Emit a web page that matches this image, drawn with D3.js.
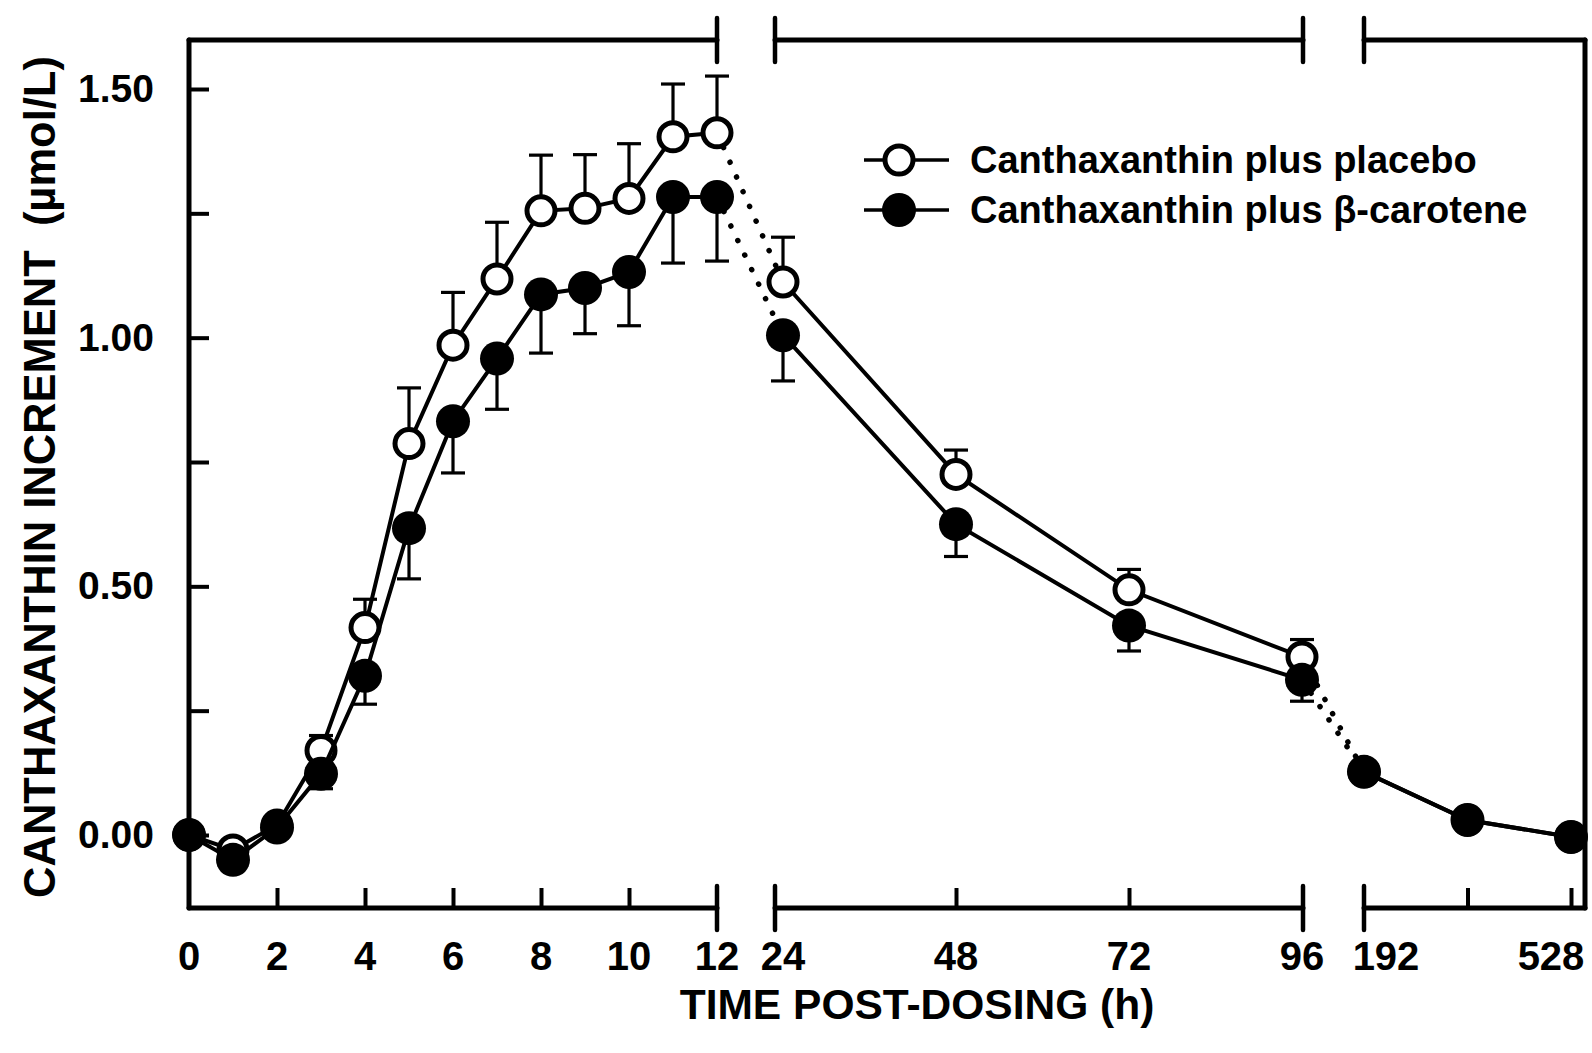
<!DOCTYPE html>
<html><head><meta charset="utf-8">
<script src="https://cdn.jsdelivr.net/npm/d3@7"></script>
<style>
body{margin:0;background:#fff}
text{font-family:"Liberation Sans",Arial,Helvetica,sans-serif;font-weight:bold;fill:#000}
</style>
</head><body>
<svg id="c" width="1592" height="1053"></svg>
<script>
// ---- data ----
const times = [0,1,2,3,4,5,6,7,8,9,10,11,12,24,48,72,96,192,360,528];
const placebo      = [0,-0.03,0.02,0.17,0.417,0.787,0.985,1.118,1.255,1.26,1.28,1.404,1.412,1.112,0.725,0.493,0.358,0.127,0.03,-0.004];
const placeboSE    = [0,0,0,0.03,0.057,0.112,0.106,0.114,0.112,0.108,0.11,0.106,0.114,0.09,0.049,0.041,0.035,0,0,0];
const betaCarotene   = [0,-0.05,0.015,0.123,0.32,0.617,0.832,0.958,1.087,1.10,1.132,1.283,1.283,1.005,0.625,0.421,0.312,0.127,0.03,-0.004];
const betaCaroteneSE = [0,0,0,0.03,0.057,0.102,0.104,0.102,0.118,0.092,0.108,0.133,0.129,0.092,0.065,0.051,0.043,0,0,0];
const segmentDomains = [[0,12],[24,96],[192,528]];
const innerTicks = [[2,4,6,8,10],[48,72],[360,528]];
const xTickLabels = [0,2,4,6,8,10,12,24,48,72,96,192,528];
const yTickValues = [0,0.25,0.5,0.75,1,1.25,1.5];
const yTickLabels = ["0.00","0.50","1.00","1.50"];
const seriesNames = ["Canthaxanthin plus placebo","Canthaxanthin plus \u03b2-carotene"];
const yTitle = "CANTHAXANTHIN INCREMENT  (\u00b5mol/L)";
const xTitle = "TIME POST-DOSING (h)";

// ---- layout ----
const svg = d3.select("#c");
const top_ = 40, bottom_ = 908, left_ = 189, right_ = 1585;
const sx = [
  d3.scaleLinear(segmentDomains[0],[189,717]),
  d3.scaleLinear(segmentDomains[1],[783,1302]),
  d3.scaleLinear(segmentDomains[2],[1364,1571])
];
const segIndex = t => t <= 12 ? 0 : (t <= 96 ? 1 : 2);
const x = t => sx[segIndex(t)](t);
const y = d3.scaleLinear([0,1.5],[835,89]);

// axis segment extents
const segExt = [[left_, 717],[775, 1303],[1364, right_]];
const frame = svg.append("g").attr("stroke","#000").attr("stroke-width",5).attr("fill","none")
  .attr("stroke-linecap","round").attr("stroke-linejoin","round");
frame.append("line").attr("x1",left_).attr("x2",left_).attr("y1",top_).attr("y2",bottom_);
frame.append("line").attr("x1",right_).attr("x2",right_).attr("y1",top_).attr("y2",bottom_);
segExt.forEach(([a,b])=>{
  [top_,bottom_].forEach(yy=>{
    frame.append("line").attr("x1",a).attr("x2",b).attr("y1",yy).attr("y2",yy);
  });
});
// break marks
[717,775,1303,1364].forEach(bx=>{
  [top_,bottom_].forEach(yy=>{
    frame.append("line").attr("x1",bx).attr("x2",bx).attr("y1",yy-22).attr("y2",yy+22).attr("stroke-width",4.5);
  });
});

// inner x ticks via d3 axes
innerTicks.forEach((tv,i)=>{
  const g = svg.append("g").attr("transform",`translate(0,${bottom_})`)
    .call(d3.axisBottom(sx[i]).tickValues(tv).tickSize(-20).tickSizeOuter(0).tickFormat(""));
  g.select(".domain").remove();
  g.selectAll(".tick line").attr("stroke","#000").attr("stroke-width",4);
});

// x tick labels
const labelShift = {192: 22, 528: -20};
svg.append("g").selectAll("text").data(xTickLabels).join("text")
  .attr("x", d => x(d) + (labelShift[d]||0))
  .attr("y", 970)
  .attr("text-anchor","middle")
  .attr("font-size",40)
  .text(d=>d);

// y axis
const ya = svg.append("g").attr("transform",`translate(${left_},0)`)
  .call(d3.axisLeft(y).tickValues(yTickValues).tickSize(-20).tickPadding(35)
     .tickFormat(d => { const s = d3.format(".2f")(d); return yTickLabels.includes(s) ? s : ""; }));
ya.select(".domain").remove();
ya.selectAll(".tick line").attr("stroke","#000").attr("stroke-width",4);
ya.selectAll(".tick text").attr("font-size",39).attr("font-family",null).attr("fill","#000")
  .style("font-family",'"Liberation Sans",Arial,sans-serif').style("font-weight","bold");

// titles
svg.append("text").attr("transform","translate(55,477) rotate(-90)")
  .attr("text-anchor","middle").attr("font-size",43.5).style("white-space","pre").text(yTitle);
svg.append("text").attr("x",917).attr("y",1019).attr("text-anchor","middle")
  .attr("font-size",42.5).text(xTitle);

// ---- series ----
function drawSeries(vals, se, dir){
  const pts = times.map((t,i)=>({t, v: vals[i], s: se[i]}));
  const g = svg.append("g");
  const line = d3.line().x(d=>x(d.t)).y(d=>y(d.v));
  // solid pieces within segments
  [0,1,2].forEach(si=>{
    const p = pts.filter(d=>segIndex(d.t)===si);
    g.append("path").attr("d",line(p)).attr("fill","none").attr("stroke","#000").attr("stroke-width",4);
  });
  // dotted connectors across breaks
  [[12,24],[96,192]].forEach(([a,b])=>{
    const p = pts.filter(d=>d.t===a||d.t===b);
    g.append("path").attr("d",line(p)).attr("fill","none").attr("stroke","#000")
      .attr("stroke-width",5.5).attr("stroke-linecap","round").attr("stroke-dasharray","0.1,16");
  });
  // error bars
  const eb = pts.filter(d=>d.s>0);
  g.selectAll(".stem").data(eb).join("line")
    .attr("x1",d=>x(d.t)).attr("x2",d=>x(d.t))
    .attr("y1",d=>y(d.v)).attr("y2",d=>y(d.v+dir*d.s))
    .attr("stroke","#000").attr("stroke-width",3.2);
  g.selectAll(".cap").data(eb).join("line")
    .attr("x1",d=>x(d.t)-12).attr("x2",d=>x(d.t)+12)
    .attr("y1",d=>y(d.v+dir*d.s)).attr("y2",d=>y(d.v+dir*d.s))
    .attr("stroke","#000").attr("stroke-width",3.2);
  return {g, pts};
}
function drawMarkers(g, pts, filled){
  g.selectAll(".m").data(pts).join("circle")
    .attr("cx",d=>x(d.t)).attr("cy",d=>y(d.v))
    .attr("r", filled ? 17 : 14)
    .attr("fill", filled ? "#000" : "#fff")
    .attr("stroke","#000").attr("stroke-width", filled ? 0 : 5);
}
const sA = drawSeries(placebo, placeboSE, 1);
const sB = drawSeries(betaCarotene, betaCaroteneSE, -1);
drawMarkers(sA.g, sA.pts, false);
drawMarkers(sB.g, sB.pts, true);

// ---- legend ----
const lg = svg.append("g");
seriesNames.forEach((name,i)=>{
  const yy = 160 + i*50;
  lg.append("line").attr("x1",864).attr("x2",949).attr("y1",yy).attr("y2",yy)
    .attr("stroke","#000").attr("stroke-width",3.5);
  lg.append("circle").attr("cx",899).attr("cy",yy).attr("r", i ? 17 : 14)
    .attr("fill", i ? "#000" : "#fff").attr("stroke","#000").attr("stroke-width", i ? 0 : 5);
  lg.append("text").attr("x",970).attr("y",yy+13).attr("font-size",38).text(name);
});
</script>
</body></html>
